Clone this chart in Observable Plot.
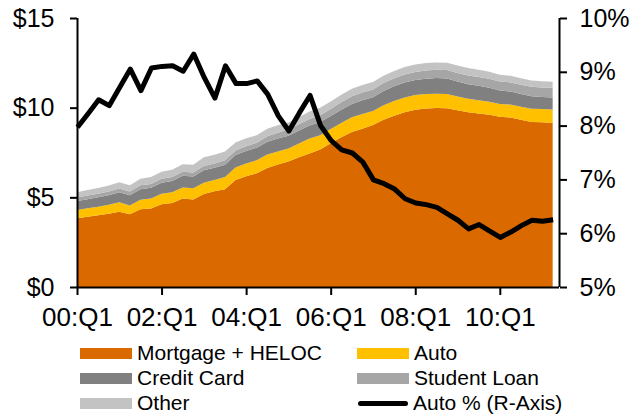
<!DOCTYPE html>
<html><head><meta charset="utf-8">
<script src="https://cdn.jsdelivr.net/npm/d3@7"></script>
<script src="https://cdn.jsdelivr.net/npm/@observablehq/plot@0.6"></script>
<style>
body{margin:0;background:#fff;font-family:"Liberation Sans",Arial,sans-serif;}
#wrap{position:relative;width:631px;height:415px;overflow:hidden;background:#fff;}
#chart svg{display:block;}
.item{position:absolute;display:flex;align-items:center;height:25px;font-size:21px;color:#000;white-space:nowrap;}
.sw{width:52px;height:11px;margin-right:5px;}
.ln{width:50px;height:5px;border-radius:3px;background:#000;margin:0 5px 0 1px;}
</style></head>
<body><div id="wrap"><div id="chart"></div><div id="legend"></div></div>
<script>
// Quarters 00:Q1 .. 11:Q2
const quarters = [];
for (let y = 0; y <= 11; y++) for (let q = 1; q <= 4; q++) {
  if (quarters.length < 46) quarters.push(String(y).padStart(2,"0") + ":Q" + q);
}
const tickLabels = ["00:Q1","02:Q1","04:Q1","06:Q1","08:Q1","10:Q1"];

const seriesNames = ["Mortgage + HELOC","Auto","Credit Card","Student Loan","Other"];
const seriesColors = ["#DA6A00","#FFC000","#808080","#A6A6A6","#C3C3C3"];

const mortgage = [3.83,3.92,4.00,4.08,4.20,4.05,4.33,4.38,4.62,4.68,4.93,4.88,
  5.18,5.34,5.45,5.96,6.17,6.34,6.64,6.83,7.00,7.23,7.45,7.67,
  8.02,8.35,8.64,8.83,9.03,9.32,9.55,9.75,9.89,9.95,9.98,9.97,
  9.85,9.75,9.68,9.60,9.49,9.45,9.32,9.20,9.18,9.15];
const auto = [0.46,0.47,0.48,0.50,0.52,0.50,0.54,0.56,0.58,0.60,0.62,0.62,
  0.64,0.62,0.68,0.70,0.72,0.73,0.75,0.73,0.73,0.77,0.83,0.79,
  0.79,0.80,0.82,0.82,0.79,0.81,0.82,0.81,0.81,0.81,0.80,0.79,
  0.77,0.75,0.74,0.73,0.72,0.72,0.73,0.74,0.74,0.75];
const creditCard = [0.50,0.51,0.52,0.54,0.56,0.56,0.58,0.59,0.61,0.63,0.65,0.66,
  0.69,0.69,0.69,0.70,0.70,0.70,0.71,0.72,0.71,0.73,0.73,0.74,
  0.72,0.74,0.75,0.77,0.76,0.80,0.82,0.84,0.84,0.85,0.87,0.87,
  0.84,0.81,0.80,0.78,0.75,0.73,0.71,0.69,0.67,0.66];
const studentLoan = [0.20,0.20,0.20,0.21,0.21,0.21,0.22,0.22,0.22,0.23,0.23,0.23,
  0.24,0.24,0.25,0.25,0.26,0.27,0.30,0.32,0.34,0.35,0.36,0.38,
  0.40,0.41,0.42,0.43,0.44,0.44,0.45,0.45,0.45,0.46,0.46,0.47,
  0.48,0.49,0.49,0.50,0.50,0.51,0.52,0.53,0.54,0.55];
const other = [0.30,0.31,0.32,0.33,0.35,0.35,0.37,0.38,0.39,0.40,0.42,0.43,
  0.48,0.49,0.48,0.45,0.45,0.42,0.42,0.42,0.39,0.40,0.42,0.42,
  0.42,0.42,0.42,0.41,0.41,0.41,0.41,0.42,0.42,0.42,0.41,0.41,
  0.41,0.41,0.40,0.39,0.38,0.37,0.36,0.35,0.35,0.34];
const autoPct = [7.98,8.23,8.49,8.38,8.72,9.06,8.66,9.08,9.11,9.12,9.02,9.34,
  8.90,8.52,9.12,8.79,8.79,8.84,8.59,8.19,7.91,8.25,8.57,8.01,
  7.73,7.56,7.50,7.33,7.00,6.93,6.83,6.65,6.57,6.54,6.49,6.37,
  6.25,6.09,6.17,6.05,5.93,6.03,6.15,6.25,6.23,6.26];

const leftTicks = [0,5,10,15];
const rightTicks = [5,6,7,8,9,10];   // percent
const pctToLeft = p => (p - 5) * 3;    // 5%..10% -> 0..15

const seriesArrays = [mortgage, auto, creditCard, studentLoan, other];
const long = [];
seriesNames.forEach((name, k) => {
  seriesArrays[k].forEach((v, i) => long.push({i, quarter: quarters[i], series: name, value: v}));
});
const pctRows = autoPct.map((p, i) => ({i, v: pctToLeft(p)}));
const tickPos = tickLabels.map(l => quarters.indexOf(l));
const xMax = 45.6;

const plot = Plot.plot({
  width: 631, height: 335,
  marginLeft: 77, marginRight: 72, marginTop: 18, marginBottom: 48,
  x: {domain: [0, xMax], label: null},
  y: {domain: [0, 15], label: null},
  color: {domain: seriesNames, range: seriesColors},
  style: {fontFamily: "Liberation Sans, Arial, sans-serif", fontSize: "25px", color: "#000", background: "#fff", overflow: "visible"},
  marks: [
    Plot.areaY(long, Plot.stackY({x: "i", y: "value", z: "series", fill: "series", order: null})),
    Plot.line(pctRows, {x: "i", y: "v", stroke: "#000", strokeWidth: 5, strokeLinejoin: "round", strokeLinecap: "butt"}),
    Plot.ruleX([0, xMax], {y1: 0, y2: 15, stroke: "#000", strokeWidth: 2}),
    Plot.ruleY([0], {x1: 0, x2: xMax, stroke: "#000", strokeWidth: 2}),
    Plot.axisY({anchor: "left", ticks: leftTicks, tickFormat: d => "$" + d, tickSize: 7, tickPadding: 16, strokeWidth: 2, label: null}),
    Plot.axisY({anchor: "right", ticks: rightTicks.map(pctToLeft), tickFormat: d => (5 + d / 3) + "%", tickSize: 7, tickPadding: 13, strokeWidth: 2, label: null}),
    Plot.axisX({ticks: tickPos, tickFormat: i => tickLabels[tickPos.indexOf(i)], tickSize: 8, tickPadding: 12, strokeWidth: 2, fontSize: 26, label: null})
  ]
});
document.getElementById("chart").appendChild(plot);

// Legend
const legendItems = [
  {label: "Mortgage + HELOC", color: seriesColors[0], left: 80, cy: 353},
  {label: "Auto", color: seriesColors[1], left: 357, cy: 353},
  {label: "Credit Card", color: seriesColors[2], left: 80, cy: 378},
  {label: "Student Loan", color: seriesColors[3], left: 357, cy: 378},
  {label: "Other", color: seriesColors[4], left: 80, cy: 403},
  {label: "Auto % (R-Axis)", line: true, left: 357, cy: 403}
];
const lg = document.getElementById("legend");
legendItems.forEach(it => {
  const d = document.createElement("div");
  d.className = "item";
  d.style.left = it.left + "px";
  d.style.top = (it.cy - 12.5) + "px";
  const s = document.createElement("span");
  if (it.line) { s.className = "ln"; } else { s.className = "sw"; s.style.background = it.color; }
  d.appendChild(s);
  const t = document.createElement("span");
  t.textContent = it.label;
  d.appendChild(t);
  lg.appendChild(d);
});
</script>
</body></html>
